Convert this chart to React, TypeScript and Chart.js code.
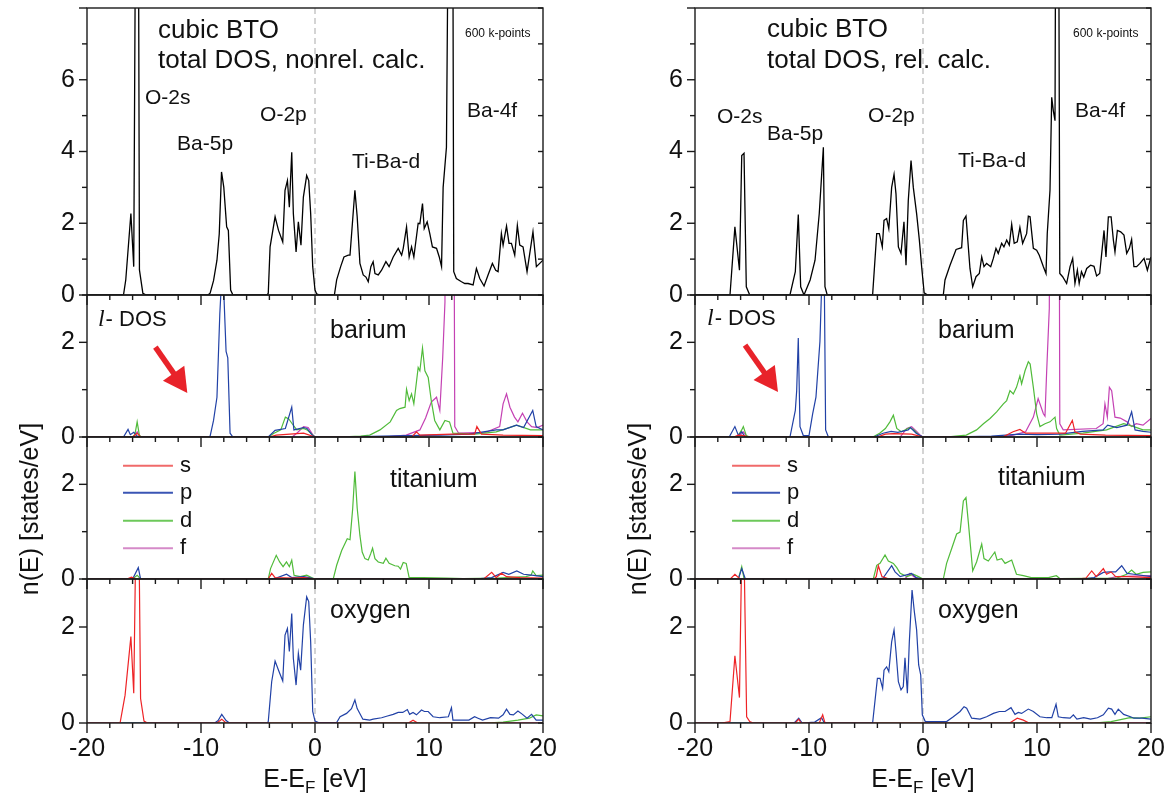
import React, { useEffect, useRef } from "react";
import { Chart, registerables } from "chart.js";

Chart.register(...registerables);

type Pt = [number, number];

// ---------------- tick labels ----------------
const xTickValues = [-20, -10, 0, 10, 20];

// ---------------- NON-RELATIVISTIC (left) ----------------
const totalNonrel: Pt[] = [
  [-20, 0], [-16.8, 0], [-16.6, 0.42], [-16.15, 2.27], [-15.9, 0.79], [-15.72, 12], [-15.5, 12], [-15.4, 0.7], [-15.1, 0.05], [-14.8, 0],
  [-9.4, 0], [-9.2, 0.05], [-8.9, 0.4], [-8.6, 0.97], [-8.4, 1.7], [-8.2, 3.43], [-8.0, 3.0], [-7.75, 1.9], [-7.6, 1.8], [-7.4, 0.14], [-7.2, 0],
  [-4.2, 0], [-4.1, 0.05], [-3.94, 1.34], [-3.5, 2.18], [-3.2, 1.8], [-2.83, 1.48], [-2.63, 2.92], [-2.42, 3.19], [-2.25, 2.45], [-2.04, 3.98],
  [-1.9, 2.27], [-1.66, 1.2], [-1.46, 2.04], [-1.23, 1.39], [-1.02, 2.73], [-0.73, 3.33], [-0.55, 3.19], [-0.38, 2.27], [-0.2, 0.79], [0, 0.14],
  [0.15, 0.03], [0.4, 0], [1.7, 0], [1.9, 0.42], [2.25, 0.79], [2.54, 1.06], [2.92, 1.11], [3.07, 1.11], [3.5, 2.92], [3.7, 2.18], [3.94, 0.88],
  [4.23, 0.56], [4.47, 0.5], [4.67, 0.37], [4.9, 0.79], [5.1, 0.93], [5.26, 0.6], [5.55, 0.56], [5.84, 0.69], [6.22, 0.93], [6.5, 0.79],
  [6.86, 1.06], [7.3, 1.3], [7.6, 1.11], [7.74, 1.3], [8.03, 1.9], [8.26, 1.06], [8.47, 1.34], [8.67, 1.06], [9.05, 2.0], [9.2, 1.99],
  [9.43, 2.55], [9.58, 1.85], [9.84, 2.04], [10.07, 1.71], [10.3, 1.34], [10.66, 1.3], [10.9, 1.06], [11.1, 0.79], [11.24, 3.0], [11.53, 4.12],
  [11.77, 14], [12.06, 14], [12.17, 0.65], [12.4, 0.46], [12.85, 0.37], [13.14, 0.32], [13.43, 0.32], [13.87, 0.28], [14.16, 0.74], [14.45, 0.46],
  [14.83, 0.25], [15.18, 0.56], [15.56, 0.88], [15.85, 0.69], [16.06, 0.65], [16.35, 1.71], [16.5, 1.39], [16.8, 1.92], [17.02, 1.44],
  [17.23, 1.44], [17.52, 1.11], [17.75, 1.94], [17.96, 1.39], [18.25, 1.34], [18.6, 0.65], [19.12, 1.76], [19.42, 0.79], [20, 0.97],
];

const baNonrelS: Pt[] = [
  [-20, 0], [-16, 0], [-15.6, 0.08], [-15.3, 0], [-4, 0], [-3.4, 0.04], [-2.2, 0.06], [-1, 0.08], [0, 0], [8.5, 0], [8.9, 0.11], [9.2, 0.04],
  [12, 0.06], [14.0, 0.06], [14.2, 0.22], [14.6, 0.06], [16.5, 0.04], [20, 0.03],
];
const baNonrelP: Pt[] = [
  [-20, 0], [-16.8, 0], [-16.4, 0.16], [-16.2, 0.05], [-15.9, 0.1], [-15.6, 0.02], [-15.3, 0], [-9.3, 0], [-9.2, 0.02], [-8.9, 0.35], [-8.6, 0.84],
  [-8.35, 2.6], [-8.2, 3.3], [-8.0, 3.05], [-7.8, 1.81], [-7.65, 1.67], [-7.45, 0.08], [-7.2, 0], [-4.1, 0], [-3.5, 0.14], [-2.6, 0.18],
  [-2.04, 0.63], [-1.85, 0.15], [-1.0, 0.2], [-0.7, 0.18], [-0.25, 0.04], [0, 0], [2, 0], [8, 0.03], [11, 0.04], [13.5, 0.06], [15.9, 0.15],
  [16.5, 0.15], [17.66, 0.25], [18.3, 0.2], [19.1, 0.56], [19.4, 0.22], [20, 0.15],
];
const baNonrelD: Pt[] = [
  [-20, 0], [-16, 0], [-15.8, 0.05], [-15.6, 0.32], [-15.4, 0.03], [-15.2, 0], [-4.1, 0], [-3.6, 0.08], [-3.0, 0.15], [-2.6, 0.42], [-2.3, 0.38],
  [-2.0, 0.28], [-1.6, 0.15], [-1.0, 0.18], [-0.7, 0.15], [0, 0], [2, 0], [4.0, 0.02], [4.8, 0.04], [5.7, 0.15], [6.6, 0.32], [7.15, 0.56],
  [7.44, 0.6], [7.9, 0.63], [8.03, 1.01], [8.26, 0.77], [8.47, 0.91], [8.67, 0.7], [9.05, 1.47], [9.2, 1.4], [9.43, 1.88], [9.64, 1.4],
  [9.93, 1.26], [10.2, 0.77], [10.5, 0.35], [10.95, 0.15], [11.4, 0.35], [11.8, 0.32], [12.1, 0.08], [14, 0.06], [15.9, 0.11], [17.7, 0.25],
  [18.9, 0.15], [20, 0.15],
];
const baNonrelF: Pt[] = [
  [-20, 0], [-15.9, 0], [-15.6, 0.11], [-15.3, 0], [-2, 0], [-1.5, 0.1], [-1.0, 0.22], [-0.6, 0.2], [-0.2, 0.05], [0, 0], [6, 0], [8.0, 0.04],
  [9.2, 0.15], [9.7, 0.4], [10.2, 0.74], [10.66, 0.84], [10.95, 0.56], [11.2, 1.67], [11.4, 2.85], [11.5, 12], [12.1, 12], [12.26, 0.22],
  [12.6, 0.08], [15, 0.1], [16.2, 0.22], [16.5, 0.7], [16.8, 0.91], [17.1, 0.63], [17.5, 0.42], [17.8, 0.32], [18.2, 0.5], [18.6, 0.32],
  [19.0, 0.22], [19.5, 0.2], [20, 0.25],
];

const tiNonrelS: Pt[] = [
  [-20, 0], [-16.5, 0], [-16.1, 0.04], [-15.7, 0], [-4.1, 0], [-3.8, 0.12], [-3.5, 0.03], [-2, 0.02], [-1, 0.03], [0, 0], [14.8, 0],
  [15.5, 0.14], [15.9, 0.03], [16.35, 0.12], [16.8, 0.05], [18, 0.03], [20, 0.02],
];
const tiNonrelP: Pt[] = [
  [-20, 0], [-16, 0], [-15.5, 0.24], [-15.3, 0], [-4, 0], [-3.4, 0.02], [-2.5, 0.1], [-2.04, 0.03], [-1, 0.05], [-0.5, 0.03], [0, 0], [14, 0],
  [15.5, 0.03], [16.5, 0.14], [17.0, 0.1], [17.7, 0.17], [18.3, 0.1], [19.0, 0.08], [20, 0.05],
];
const tiNonrelD: Pt[] = [
  [-20, 0], [-16, 0], [-15.6, 0.08], [-15.3, 0], [-4.1, 0], [-3.9, 0.22], [-3.4, 0.5], [-3.1, 0.36], [-2.8, 0.26], [-2.5, 0.36], [-2.25, 0.26],
  [-2.04, 0.4], [-1.84, 0.08], [-1.3, 0.05], [-0.73, 0.08], [-0.3, 0.03], [0, 0], [1.6, 0], [1.9, 0.29], [2.34, 0.6], [2.83, 0.85],
  [3.07, 0.83], [3.3, 1.47], [3.5, 2.27], [3.7, 1.5], [3.94, 0.92], [4.14, 0.57], [4.38, 0.43], [4.67, 0.4], [4.88, 0.53], [5.05, 0.65],
  [5.26, 0.43], [5.55, 0.36], [5.99, 0.33], [6.22, 0.44], [6.5, 0.33], [6.8, 0.3], [7.0, 0.28], [7.3, 0.27], [7.5, 0.21], [7.74, 0.35],
  [8.0, 0.33], [8.26, 0.03], [9.5, 0.03], [11.5, 0.02], [13, 0.01], [16, 0.02], [18.5, 0.05], [18.95, 0.08], [19.1, 0.17], [19.4, 0.07], [20, 0.08],
];
const tiNonrelF: Pt[] = [[-20, 0], [-1.5, 0], [-1.0, 0.03], [-0.5, 0.02], [0, 0], [20, 0]];

const oNonrelS: Pt[] = [
  [-20, 0], [-17.1, 0], [-16.66, 0.58], [-16.15, 1.8], [-15.9, 0.62], [-15.68, 4.5], [-15.47, 4.5], [-15.3, 0.51], [-15.0, 0.04], [-14.7, 0],
  [-8.6, 0], [-8.18, 0.08], [-7.8, 0], [8.2, 0], [8.6, 0.06], [9.0, 0], [20, 0],
];
const oNonrelP: Pt[] = [
  [-20, 0], [-8.8, 0], [-8.5, 0.05], [-8.18, 0.18], [-7.8, 0.05], [-7.5, 0], [-4.2, 0], [-4.1, 0.03], [-3.8, 0.86], [-3.5, 1.29], [-3.2, 1.1],
  [-2.83, 0.875], [-2.63, 1.83], [-2.42, 1.97], [-2.25, 1.49], [-2.04, 2.28], [-1.9, 1.35], [-1.66, 0.79], [-1.46, 1.45], [-1.26, 1.1],
  [-1.02, 2.04], [-0.73, 2.63], [-0.55, 2.53], [-0.38, 1.69], [-0.2, 0.24], [0, 0.04], [0.3, 0.01], [1.9, 0.01], [2.2, 0.13], [2.77, 0.2],
  [3.2, 0.3], [3.5, 0.48], [3.7, 0.3], [4.2, 0.08], [4.8, 0.06], [5.1, 0.08], [5.84, 0.11], [6.28, 0.14], [6.86, 0.18], [7.3, 0.22], [7.7, 0.22],
  [8.1, 0.28], [8.3, 0.18], [8.6, 0.22], [8.9, 0.17], [9.34, 0.27], [9.6, 0.24], [9.93, 0.24], [10.36, 0.13], [10.95, 0.11], [11.7, 0.13],
  [11.97, 0.32], [12.1, 0.06], [13.5, 0.06], [14.0, 0.13], [14.3, 0.1], [14.7, 0.06], [15.4, 0.11], [16.1, 0.1], [16.5, 0.17], [16.8, 0.29],
  [17.1, 0.18], [17.4, 0.17], [17.8, 0.25], [18.2, 0.18], [18.6, 0.1], [19.0, 0.18], [19.4, 0.06], [20, 0.06],
];
const oNonrelD: Pt[] = [[-20, 0], [15, 0], [16.5, 0.02], [17.8, 0.06], [18.8, 0.1], [19.4, 0.17], [20, 0.15]];
const oNonrelF: Pt[] = [[-20, 0], [20, 0]];

// ---------------- RELATIVISTIC (right) ----------------
const totalRel: Pt[] = [
  [-20, 0], [-16.93, 0], [-16.5, 1.9], [-16.1, 0.69], [-15.9, 3.89], [-15.7, 3.95], [-15.5, 0.23], [-15.2, 0], [-11.67, 0], [-11.2, 0.65],
  [-10.94, 2.24], [-10.73, 0.23], [-10.44, 0], [-9.9, 0.42], [-9.47, 0.97], [-9.1, 2.27], [-8.74, 4.12], [-8.6, 0.23], [-8.4, 0], [-4.42, 0],
  [-4.06, 1.71], [-3.83, 1.71], [-3.57, 1.34], [-3.42, 2.08], [-3.19, 2.13], [-3.0, 1.85], [-2.75, 3.0], [-2.54, 3.36], [-2.37, 2.82],
  [-2.16, 1.34], [-1.93, 1.16], [-1.67, 2.04], [-1.49, 0.83], [-1.29, 2.64], [-1.05, 3.75], [-0.85, 3.0], [-0.56, 2.27], [-0.32, 1.53],
  [-0.12, 0.79], [0.1, 0.06], [0.4, 0], [1.78, 0], [1.93, 0.42], [2.37, 0.83], [2.9, 1.27], [3.39, 1.32], [3.54, 2.08], [3.77, 2.2],
  [4.12, 0.74], [4.36, 0.23], [4.65, 0.51], [4.94, 0.6], [5.15, 1.06], [5.35, 0.79], [5.58, 0.88], [5.94, 0.79], [6.17, 1.02], [6.4, 1.3],
  [6.6, 1.16], [6.9, 1.44], [7.1, 1.34], [7.34, 1.53], [7.57, 1.39], [7.78, 1.97], [8.0, 1.44], [8.27, 1.48], [8.5, 1.88], [8.74, 1.44],
  [9.09, 1.71], [9.24, 2.2], [9.39, 2.18], [9.68, 1.3], [9.97, 1.25], [10.2, 1.11], [10.56, 0.79], [10.79, 0.6], [10.9, 1.71], [11.14, 2.92],
  [11.29, 5.51], [11.43, 5.14], [11.58, 4.86], [11.67, 14], [11.87, 14], [12.0, 0.6], [12.25, 0.51], [12.6, 0.32], [12.9, 0.79], [13.13, 1.02],
  [13.33, 0.32], [13.54, 0.69], [13.7, 0.32], [13.9, 0.65], [14.1, 0.5], [14.36, 0.74], [14.7, 0.83], [15.0, 0.8], [15.23, 0.53], [15.5, 0.6],
  [15.88, 1.8], [16.05, 1.06], [16.26, 2.18], [16.5, 2.18], [16.7, 1.53], [16.84, 1.2], [17.05, 1.8], [17.34, 1.76], [17.63, 1.67],
  [17.87, 1.16], [18.1, 1.3], [18.3, 1.55], [18.5, 0.79], [18.74, 0.79], [19.03, 0.88], [19.39, 1.02], [19.68, 0.69], [20, 1.06],
];

const baRelS: Pt[] = [
  [-20, 0], [-16.6, 0], [-16.2, 0.04], [-15.7, 0.03], [-15.3, 0], [-4, 0], [-3.3, 0.06], [-2.6, 0.07], [-1.0, 0.06], [0, 0], [7, 0],
  [7.9, 0.11], [8.5, 0.16], [9.0, 0.08], [12.5, 0.08], [13.1, 0.35], [13.33, 0.11], [13.8, 0.06], [16, 0.04], [20, 0.03],
];
const baRelP: Pt[] = [
  [-20, 0], [-17.0, 0], [-16.5, 0.22], [-16.2, 0.04], [-15.9, 0.11], [-15.6, 0], [-11.67, 0], [-11.2, 0.56], [-11.08, 0.98], [-10.94, 2.09],
  [-10.79, 0.22], [-10.5, 0.03], [-10.0, 0.03], [-9.68, 0.49], [-9.39, 0.84], [-9.04, 2.02], [-8.8, 3.9], [-8.68, 3.9], [-8.54, 0.15],
  [-8.3, 0], [-4.3, 0], [-3.5, 0.08], [-2.8, 0.12], [-2.2, 0.1], [-1.3, 0.15], [-1.1, 0.2], [-0.6, 0.08], [0, 0], [2, 0], [6, 0.02],
  [8.5, 0.06], [10, 0.05], [12, 0.06], [14, 0.12], [15.8, 0.15], [16.2, 0.25], [17, 0.2], [17.9, 0.25], [18.3, 0.53], [18.6, 0.15],
  [19.3, 0.12], [20, 0.1],
];
const baRelD: Pt[] = [
  [-20, 0], [-16.3, 0], [-15.9, 0.15], [-15.76, 0.22], [-15.5, 0.03], [-15.2, 0], [-4.4, 0], [-3.8, 0.08], [-3.3, 0.18], [-2.9, 0.32],
  [-2.6, 0.46], [-2.3, 0.18], [-1.9, 0.11], [-1.14, 0.2], [-0.8, 0.15], [-0.3, 0.03], [0, 0], [2, 0], [3.8, 0.04], [4.7, 0.15], [5.3, 0.28],
  [5.88, 0.39], [6.46, 0.53], [7.05, 0.7], [7.34, 0.77], [7.63, 0.98], [7.92, 0.91], [8.2, 1.05], [8.5, 1.29], [8.65, 1.12], [8.95, 1.4],
  [9.24, 1.59], [9.4, 1.54], [9.68, 1.05], [9.97, 0.49], [10.26, 0.22], [10.7, 0.28], [11.14, 0.32], [11.58, 0.42], [11.72, 0.18],
  [12.0, 0.04], [14, 0.08], [16.1, 0.15], [17.6, 0.28], [18.5, 0.22], [19.3, 0.15], [20, 0.15],
];
const baRelF: Pt[] = [
  [-20, 0], [-16.2, 0], [-15.76, 0.11], [-15.4, 0], [-2, 0], [-1.43, 0.18], [-1.0, 0.22], [-0.56, 0.12], [-0.2, 0.03], [0, 0], [7, 0],
  [7.9, 0.04], [9.0, 0.11], [9.68, 0.42], [10.1, 0.81], [10.56, 0.49], [10.7, 0.44], [10.85, 1.4], [11.08, 2.72], [11.2, 12], [11.87, 12],
  [12.0, 0.28], [12.3, 0.15], [15.2, 0.18], [15.8, 0.28], [15.96, 0.7], [16.17, 0.42], [16.35, 1.05], [16.55, 0.98], [16.84, 0.42],
  [17.3, 0.4], [17.9, 0.32], [18.3, 0.22], [18.7, 0.28], [19.3, 0.25], [20, 0.39],
];

const tiRelS: Pt[] = [
  [-20, 0], [-16.9, 0], [-16.5, 0.1], [-16.1, 0.01], [-15.8, 0], [-4.3, 0], [-4.1, 0.05], [-3.92, 0.28], [-3.6, 0.05], [-3.1, 0.01], [0, 0],
  [13.5, 0], [14.3, 0.02], [14.8, 0.17], [15.2, 0.05], [15.82, 0.22], [16.1, 0.1], [16.5, 0.15], [16.9, 0.05], [18, 0.05], [20, 0.03],
];
const tiRelP: Pt[] = [
  [-20, 0], [-16.2, 0], [-15.9, 0.22], [-15.6, 0.01], [-4, 0], [-3.5, 0.02], [-2.75, 0.28], [-2.45, 0.15], [-2.0, 0.05], [-1.0, 0.12],
  [-0.6, 0.03], [0, 0], [14, 0], [15.0, 0.03], [15.82, 0.14], [16.4, 0.15], [16.9, 0.15], [17.43, 0.28], [17.9, 0.12], [18.5, 0.1], [20, 0.05],
];
const tiRelD: Pt[] = [
  [-20, 0], [-16.2, 0], [-15.9, 0.26], [-15.7, 0.01], [-4.36, 0], [-4.06, 0.29], [-3.77, 0.33], [-3.33, 0.51], [-3.04, 0.38], [-2.6, 0.33],
  [-2.3, 0.24], [-2.0, 0.12], [-1.4, 0.05], [-0.85, 0.1], [-0.4, 0.05], [0, 0], [1.78, 0], [2.07, 0.33], [2.51, 0.64], [2.95, 0.95],
  [3.25, 0.99], [3.54, 1.65], [3.77, 1.72], [3.98, 1.19], [4.36, 0.17], [4.7, 0.36], [5.15, 0.74], [5.35, 0.43], [5.73, 0.38], [6.3, 0.57],
  [6.5, 0.4], [6.9, 0.43], [7.2, 0.33], [7.78, 0.4], [8.2, 0.1], [8.8, 0.07], [9.5, 0.03], [11, 0.03], [11.7, 0.07], [12, 0.01], [17, 0.02],
  [17.87, 0.1], [18.3, 0.19], [18.7, 0.1], [19.3, 0.14], [20, 0.15],
];
const tiRelF: Pt[] = [[-20, 0], [-1.6, 0], [-1.14, 0.12], [-0.8, 0.05], [-0.4, 0], [16, 0], [17, 0.05], [20, 0.07]];

const oRelS: Pt[] = [
  [-20, 0], [-17.66, 0], [-16.93, 0.03], [-16.5, 1.4], [-16.1, 0.53], [-15.9, 3.6], [-15.7, 3.6], [-15.47, 0.13], [-15.2, 0.03], [-14.9, 0],
  [-11.2, 0], [-10.9, 0.08], [-10.7, 0], [-9.1, 0], [-8.8, 0.17], [-8.6, 0], [7.6, 0], [8.27, 0.1], [8.8, 0.06], [9.3, 0], [20, 0],
];
const oRelP: Pt[] = [
  [-20, 0], [-11.3, 0], [-10.9, 0.1], [-10.6, 0], [-9.5, 0.02], [-8.9, 0.11], [-8.7, 0.02], [-8.4, 0], [-4.42, 0], [-4.0, 0.93], [-3.77, 0.93],
  [-3.54, 0.72], [-3.42, 1.1], [-3.19, 1.17], [-3.0, 1.07], [-2.75, 1.69], [-2.54, 1.94], [-2.37, 1.49], [-2.16, 0.86], [-1.93, 0.69],
  [-1.73, 0.76], [-1.58, 1.36], [-1.37, 0.62], [-1.2, 1.69], [-0.96, 2.77], [-0.76, 2.32], [-0.56, 1.94], [-0.38, 1.21], [-0.2, 1.0],
  [-0.06, 0.17], [0.2, 0.03], [2.07, 0.03], [2.66, 0.13], [3.25, 0.24], [3.6, 0.34], [3.83, 0.31], [4.27, 0.1], [5.0, 0.08], [5.58, 0.13],
  [6.17, 0.2], [6.7, 0.24], [7.2, 0.24], [7.72, 0.32], [8.07, 0.18], [8.36, 0.22], [8.65, 0.2], [9.24, 0.29], [9.68, 0.24], [10.26, 0.13],
  [10.85, 0.11], [11.3, 0.11], [11.67, 0.39], [11.87, 0.13], [12.3, 0.11], [12.9, 0.1], [13.19, 0.17], [13.5, 0.08], [14.1, 0.11],
  [14.7, 0.08], [15.3, 0.11], [15.82, 0.17], [16.26, 0.31], [16.55, 0.29], [16.84, 0.18], [17.13, 0.29], [17.6, 0.18], [18.2, 0.13],
  [18.5, 0.1], [19.2, 0.1], [20, 0.08],
];
const oRelD: Pt[] = [[-20, 0], [15, 0], [16.5, 0.03], [18.16, 0.11], [19, 0.1], [20, 0.13]];
const oRelF: Pt[] = [[-20, 0], [20, 0]];

// ---------------- styling / layout ----------------
const FONT = '"Liberation Sans", Arial, Helvetica, sans-serif';
const COLORS = { s: "#ee2326", p: "#2141a6", d: "#50bb3a", f: "#c441b3" };
const LEGEND_COLORS = { s: "#f06a6a", p: "#3a55b4", d: "#6cc85a", f: "#d58ac8" };
const ORBITALS = ["s", "p", "d", "f"] as const;

const PANELS = [
  { id: "yT", max: 8, stackWeight: 287, weight: 4 },
  { id: "yBa", max: 3, stackWeight: 142, weight: 3 },
  { id: "yTi", max: 3, stackWeight: 142, weight: 2 },
  { id: "yO", max: 3, stackWeight: 144, weight: 1 },
];

type Ann = { t: string; ax: string; x: number; y: number; size: number };

type Column = {
  total: Pt[];
  ba: Pt[][];
  ti: Pt[][];
  o: Pt[][];
  yAxisWidth: number;
  padRight: number;
  labels: Ann[];
  arrow: { x1: number; y1: number; x2: number; y2: number };
  lDos: { x: number; y: number };
  legend: { x1: number; x2: number; xt: number; ys: number[] };
};

const nonrelColumn: Column = {
  total: totalNonrel,
  ba: [baNonrelS, baNonrelP, baNonrelD, baNonrelF],
  ti: [tiNonrelS, tiNonrelP, tiNonrelD, tiNonrelF],
  o: [oNonrelS, oNonrelP, oNonrelD, oNonrelF],
  yAxisWidth: 87,
  padRight: 42,
  labels: [
    { t: "cubic BTO", ax: "yT", x: -13.77, y: 7.16, size: 26 },
    { t: "total DOS, nonrel. calc.", ax: "yT", x: -13.77, y: 6.33, size: 26 },
    { t: "600 k-points", ax: "yT", x: 13.16, y: 7.19, size: 12 },
    { t: "O-2s", ax: "yT", x: -14.91, y: 5.32, size: 21 },
    { t: "Ba-5p", ax: "yT", x: -12.1, y: 4.04, size: 21 },
    { t: "O-2p", ax: "yT", x: -4.82, y: 4.85, size: 21 },
    { t: "Ti-Ba-d", ax: "yT", x: 3.25, y: 3.54, size: 21 },
    { t: "Ba-4f", ax: "yT", x: 13.33, y: 4.96, size: 21 },
    { t: "barium", ax: "yBa", x: 1.32, y: 2.09, size: 25 },
    { t: "titanium", ax: "yTi", x: 6.58, y: 1.94, size: 25 },
    { t: "oxygen", ax: "yO", x: 1.32, y: 2.19, size: 25 },
  ],
  arrow: { x1: -14.0, y1: 1.9, x2: -11.2, y2: 0.93 },
  lDos: { x: -19.04, y: 2.35 },
  legend: { x1: -16.84, x2: -12.46, xt: -11.84, ys: [2.39, 1.82, 1.23, 0.65] },
};

const relColumn: Column = {
  total: totalRel,
  ba: [baRelS, baRelP, baRelD, baRelF],
  ti: [tiRelS, tiRelP, tiRelD, tiRelF],
  o: [oRelS, oRelP, oRelD, oRelF],
  yAxisWidth: 110,
  padRight: 19,
  labels: [
    { t: "cubic BTO", ax: "yT", x: -13.68, y: 7.19, size: 26 },
    { t: "total DOS, rel. calc.", ax: "yT", x: -13.68, y: 6.33, size: 26 },
    { t: "600 k-points", ax: "yT", x: 13.16, y: 7.19, size: 12 },
    { t: "O-2s", ax: "yT", x: -18.07, y: 4.79, size: 21 },
    { t: "Ba-5p", ax: "yT", x: -13.68, y: 4.32, size: 21 },
    { t: "O-2p", ax: "yT", x: -4.82, y: 4.82, size: 21 },
    { t: "Ti-Ba-d", ax: "yT", x: 3.07, y: 3.57, size: 21 },
    { t: "Ba-4f", ax: "yT", x: 13.33, y: 4.96, size: 21 },
    { t: "barium", ax: "yBa", x: 1.32, y: 2.09, size: 25 },
    { t: "titanium", ax: "yTi", x: 6.58, y: 1.99, size: 25 },
    { t: "oxygen", ax: "yO", x: 1.32, y: 2.19, size: 25 },
  ],
  arrow: { x1: -15.61, y1: 1.94, x2: -12.72, y2: 0.95 },
  lDos: { x: -18.95, y: 2.37 },
  legend: { x1: -16.75, x2: -12.54, xt: -11.93, ys: [2.39, 1.82, 1.23, 0.65] },
};

const CANVAS_W = 585;
const CANVAS_H = 796;
const PLOT_TOP = 8;
const PLOT_BOTTOM = 723;

function makeDataset(arr: Pt[], color: string, axis: string, width: number) {
  return {
    data: arr.map(([x, y]) => ({ x, y })),
    borderColor: color,
    backgroundColor: color,
    borderWidth: width,
    pointRadius: 0,
    pointHoverRadius: 0,
    tension: 0,
    fill: false,
    yAxisID: axis,
    xAxisID: "x",
  };
}

function decoPlugin(col: Column) {
  return {
    id: "deco",
    beforeDatasetsDraw(chart: any) {
      const { ctx, chartArea } = chart;
      const xs = chart.scales.x;
      const x0 = xs.getPixelForValue(0);
      ctx.save();
      ctx.strokeStyle = "#b8b8b8";
      ctx.lineWidth = 1.2;
      ctx.setLineDash([6, 4]);
      ctx.beginPath();
      ctx.moveTo(x0, chartArea.top);
      ctx.lineTo(x0, chartArea.bottom);
      ctx.stroke();
      ctx.restore();
    },
    afterDatasetsDraw(chart: any) {
      const { ctx } = chart;
      const xs = chart.scales.x;
      ctx.save();
      ctx.strokeStyle = "#1a1a1a";
      ctx.lineWidth = 1.4;
      const seg = (a: number, b: number, c: number, d: number) => {
        ctx.beginPath();
        ctx.moveTo(a, b);
        ctx.lineTo(c, d);
        ctx.stroke();
      };
      for (const p of PANELS) {
        const ys = chart.scales[p.id];
        ctx.strokeRect(xs.left, ys.top, xs.right - xs.left, ys.bottom - ys.top);
        for (let v = 0; v <= p.max; v++) {
          const y = ys.getPixelForValue(v);
          const L = v % 2 === 0 ? 8 : 5;
          seg(xs.left - L, y, xs.left, y);
          seg(xs.right - 5, y, xs.right, y);
        }
        for (let e = -20; e <= 20; e += 2) {
          const x = xs.getPixelForValue(e);
          const L = e % 10 === 0 ? 10 : 5;
          seg(x, ys.bottom, x, ys.bottom + L);
        }
      }
      // legend lines in titanium panel
      const yTi = chart.scales.yTi;
      ctx.lineWidth = 2;
      ORBITALS.forEach((o, i) => {
        const y = yTi.getPixelForValue(col.legend.ys[i]);
        ctx.strokeStyle = LEGEND_COLORS[o];
        seg(xs.getPixelForValue(col.legend.x1), y, xs.getPixelForValue(col.legend.x2), y);
      });
      // red arrow in barium panel
      const yBa = chart.scales.yBa;
      const ax1 = xs.getPixelForValue(col.arrow.x1);
      const ay1 = yBa.getPixelForValue(col.arrow.y1);
      const ax2 = xs.getPixelForValue(col.arrow.x2);
      const ay2 = yBa.getPixelForValue(col.arrow.y2);
      const ang = Math.atan2(ay2 - ay1, ax2 - ax1);
      const headL = 24;
      const headW = 13;
      const bx = ax2 - headL * Math.cos(ang);
      const by = ay2 - headL * Math.sin(ang);
      ctx.strokeStyle = "#e8232a";
      ctx.fillStyle = "#e8232a";
      ctx.lineWidth = 5.5;
      ctx.lineCap = "butt";
      seg(ax1, ay1, bx + 2 * Math.cos(ang), by + 2 * Math.sin(ang));
      ctx.beginPath();
      ctx.moveTo(ax2, ay2);
      ctx.lineTo(bx + headW * Math.sin(ang), by - headW * Math.cos(ang));
      ctx.lineTo(bx - headW * Math.sin(ang), by + headW * Math.cos(ang));
      ctx.closePath();
      ctx.fill();
      ctx.restore();
    },
    afterDraw(chart: any) {
      const { ctx, chartArea } = chart;
      const xs = chart.scales.x;
      ctx.save();
      ctx.fillStyle = "#111";
      ctx.textBaseline = "alphabetic";
      ctx.textAlign = "left";
      for (const a of col.labels) {
        ctx.font = `${a.size}px ${FONT}`;
        ctx.fillText(a.t, xs.getPixelForValue(a.x), chart.scales[a.ax].getPixelForValue(a.y));
      }
      // l- DOS
      const lx = xs.getPixelForValue(col.lDos.x);
      const ly = chart.scales.yBa.getPixelForValue(col.lDos.y);
      ctx.font = `italic 24px "Liberation Serif", "Times New Roman", serif`;
      ctx.fillText("l", lx, ly);
      const lw = ctx.measureText("l").width;
      ctx.font = `22px ${FONT}`;
      ctx.fillText("- DOS", lx + lw + 1, ly);
      // legend labels
      const yTi = chart.scales.yTi;
      ctx.font = `22px ${FONT}`;
      ORBITALS.forEach((o, i) => {
        ctx.fillText(o, xs.getPixelForValue(col.legend.xt), yTi.getPixelForValue(col.legend.ys[i]) + 6);
      });
      // y title
      ctx.save();
      const cy = (chart.scales.yBa.top + chart.scales.yO.bottom) / 2;
      ctx.translate(chartArea.left - 56, cy);
      ctx.rotate(-Math.PI / 2);
      ctx.textAlign = "center";
      ctx.textBaseline = "middle";
      ctx.font = `25px ${FONT}`;
      ctx.fillText("n(E) [states/eV]", 0, 0);
      ctx.restore();
      // x title with subscript
      const parts: [string, number, number][] = [
        ["E-E", 25, 0],
        ["F", 17, 6],
        [" [eV]", 25, 0],
      ];
      let total = 0;
      for (const [t, s] of parts) {
        ctx.font = `${s}px ${FONT}`;
        total += ctx.measureText(t).width;
      }
      let tx = (chartArea.left + chartArea.right) / 2 - total / 2;
      const base = chartArea.bottom + 64;
      for (const [t, s, dy] of parts) {
        ctx.font = `${s}px ${FONT}`;
        ctx.fillText(t, tx, base + dy);
        tx += ctx.measureText(t).width;
      }
      ctx.restore();
    },
  };
}

function buildChart(canvas: HTMLCanvasElement, col: Column) {
  const datasets: any[] = [makeDataset(col.total, "#000000", "yT", 1.3)];
  const groups: [Pt[][], string][] = [
    [col.ba, "yBa"],
    [col.ti, "yTi"],
    [col.o, "yO"],
  ];
  for (const [arrs, axis] of groups) {
    arrs.forEach((arr, i) => datasets.push(makeDataset(arr, COLORS[ORBITALS[i]], axis, 1.2)));
  }
  const tickFont = { size: 25, family: FONT };
  const scales: any = {
    x: {
      type: "linear",
      position: "bottom",
      min: xTickValues[0],
      max: xTickValues[xTickValues.length - 1],
      ticks: { stepSize: 10, font: tickFont, color: "#111", padding: 11, maxRotation: 0, autoSkip: false },
      grid: { display: false, drawTicks: false },
      border: { display: false },
      afterFit: (s: any) => {
        s.height = CANVAS_H - PLOT_BOTTOM;
        s.paddingLeft = 0;
        s.paddingRight = 0;
        s.paddingTop = 0;
        s.paddingBottom = 0;
      },
    },
  };
  for (const p of PANELS) {
    scales[p.id] = {
      type: "linear",
      position: "left",
      stack: "col",
      stackWeight: p.stackWeight,
      weight: p.weight,
      min: 0,
      max: p.max,
      ticks: {
        stepSize: 2,
        font: tickFont,
        color: "#111",
        padding: 12,
        callback: (v: any) => (Number(v) % 2 === 0 && Number(v) < p.max ? String(v) : ""),
      },
      grid: { display: false, drawTicks: false },
      border: { display: false },
      afterFit: (s: any) => {
        s.width = col.yAxisWidth;
        s.paddingTop = 0;
        s.paddingBottom = 0;
        s.paddingLeft = 0;
        s.paddingRight = 0;
      },
    };
  }
  return new Chart(canvas, {
    type: "line",
    data: { datasets },
    options: {
      animation: false,
      responsive: false,
      maintainAspectRatio: false,
      events: [],
      layout: { padding: { left: 0, top: PLOT_TOP, right: col.padRight, bottom: 0 } },
      plugins: { legend: { display: false }, tooltip: { enabled: false } },
      scales,
    } as any,
    plugins: [decoPlugin(col) as any],
  });
}

export default function App() {
  const leftRef = useRef<HTMLCanvasElement | null>(null);
  const rightRef = useRef<HTMLCanvasElement | null>(null);

  useEffect(() => {
    Chart.defaults.font.family = FONT;
    const charts: Chart[] = [];
    if (leftRef.current) charts.push(buildChart(leftRef.current, nonrelColumn));
    if (rightRef.current) charts.push(buildChart(rightRef.current, relColumn));
    return () => charts.forEach((c) => c.destroy());
  }, []);

  return (
    <div style={{ position: "absolute", left: 0, top: 0, width: 1170, height: 796, background: "#fff" }}>
      <canvas
        ref={leftRef}
        width={CANVAS_W}
        height={CANVAS_H}
        style={{ position: "absolute", left: 0, top: 0, width: CANVAS_W, height: CANVAS_H }}
      />
      <canvas
        ref={rightRef}
        width={CANVAS_W}
        height={CANVAS_H}
        style={{ position: "absolute", left: CANVAS_W, top: 0, width: CANVAS_W, height: CANVAS_H }}
      />
    </div>
  );
}
